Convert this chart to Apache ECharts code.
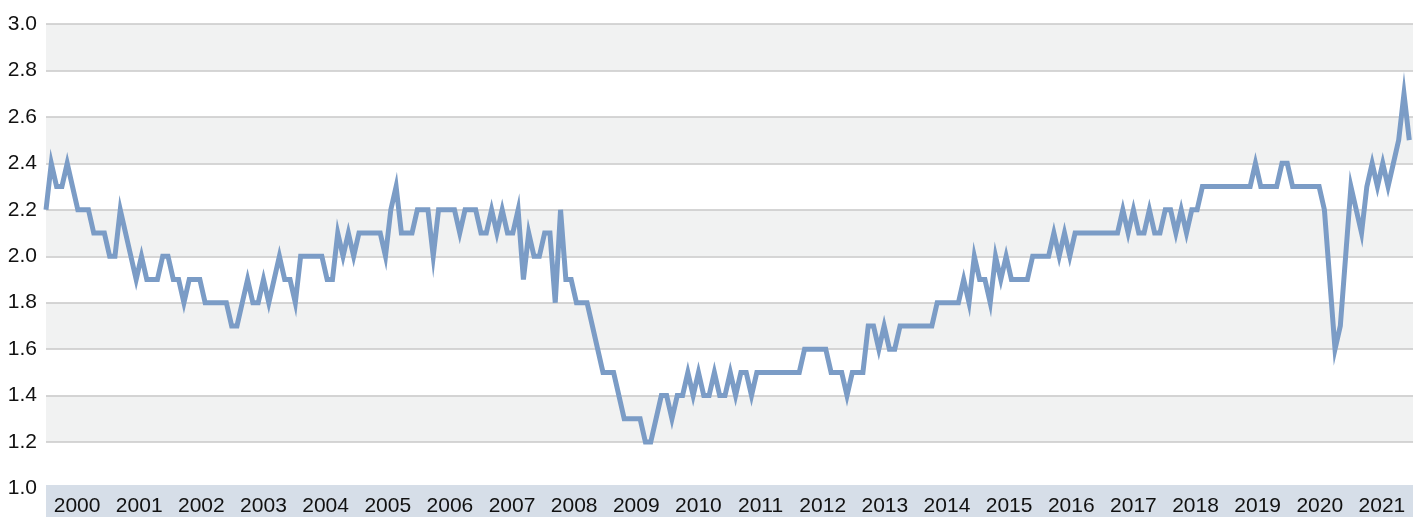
<!DOCTYPE html>
<html>
<head>
<meta charset="utf-8">
<script src="https://cdn.jsdelivr.net/npm/echarts@6/dist/echarts.min.js"></script>
<style>
  html, body { margin: 0; padding: 0; background: #ffffff; }
  #chart { width: 1419px; height: 517px; }
</style>
</head>
<body>
<div id="chart"></div>
<script>
// ---- data ----
const years = ['2000','2001','2002','2003','2004','2005','2006','2007','2008','2009','2010',
               '2011','2012','2013','2014','2015','2016','2017','2018','2019','2020','2021'];
const yTicks = [1.0, 1.2, 1.4, 1.6, 1.8, 2.0, 2.2, 2.4, 2.6, 2.8, 3.0];
// monthly values, Jan 2000 - Jun 2021
const values = [
  2.2, 2.4, 2.3, 2.3, 2.4, 2.3, 2.2, 2.2, 2.2, 2.1, 2.1, 2.1,   // 2000
  2.0, 2.0, 2.2, 2.1, 2.0, 1.9, 2.0, 1.9, 1.9, 1.9, 2.0, 2.0,   // 2001
  1.9, 1.9, 1.8, 1.9, 1.9, 1.9, 1.8, 1.8, 1.8, 1.8, 1.8, 1.7,   // 2002
  1.7, 1.8, 1.9, 1.8, 1.8, 1.9, 1.8, 1.9, 2.0, 1.9, 1.9, 1.8,   // 2003
  2.0, 2.0, 2.0, 2.0, 2.0, 1.9, 1.9, 2.1, 2.0, 2.1, 2.0, 2.1,   // 2004
  2.1, 2.1, 2.1, 2.1, 2.0, 2.2, 2.3, 2.1, 2.1, 2.1, 2.2, 2.2,   // 2005
  2.2, 2.0, 2.2, 2.2, 2.2, 2.2, 2.1, 2.2, 2.2, 2.2, 2.1, 2.1,   // 2006
  2.2, 2.1, 2.2, 2.1, 2.1, 2.2, 1.9, 2.1, 2.0, 2.0, 2.1, 2.1,   // 2007
  1.8, 2.2, 1.9, 1.9, 1.8, 1.8, 1.8, 1.7, 1.6, 1.5, 1.5, 1.5,   // 2008
  1.4, 1.3, 1.3, 1.3, 1.3, 1.2, 1.2, 1.3, 1.4, 1.4, 1.3, 1.4,   // 2009
  1.4, 1.5, 1.4, 1.5, 1.4, 1.4, 1.5, 1.4, 1.4, 1.5, 1.4, 1.5,   // 2010
  1.5, 1.4, 1.5, 1.5, 1.5, 1.5, 1.5, 1.5, 1.5, 1.5, 1.5, 1.6,   // 2011
  1.6, 1.6, 1.6, 1.6, 1.5, 1.5, 1.5, 1.4, 1.5, 1.5, 1.5, 1.7,   // 2012
  1.7, 1.6, 1.7, 1.6, 1.6, 1.7, 1.7, 1.7, 1.7, 1.7, 1.7, 1.7,   // 2013
  1.8, 1.8, 1.8, 1.8, 1.8, 1.9, 1.8, 2.0, 1.9, 1.9, 1.8, 2.0,   // 2014
  1.9, 2.0, 1.9, 1.9, 1.9, 1.9, 2.0, 2.0, 2.0, 2.0, 2.1, 2.0,   // 2015
  2.1, 2.0, 2.1, 2.1, 2.1, 2.1, 2.1, 2.1, 2.1, 2.1, 2.1, 2.2,   // 2016
  2.1, 2.2, 2.1, 2.1, 2.2, 2.1, 2.1, 2.2, 2.2, 2.1, 2.2, 2.1,   // 2017
  2.2, 2.2, 2.3, 2.3, 2.3, 2.3, 2.3, 2.3, 2.3, 2.3, 2.3, 2.3,   // 2018
  2.4, 2.3, 2.3, 2.3, 2.3, 2.4, 2.4, 2.3, 2.3, 2.3, 2.3, 2.3,   // 2019
  2.3, 2.2, 1.9, 1.6, 1.7, 2.0, 2.3, 2.2, 2.1, 2.3, 2.4, 2.3,   // 2020
  2.4, 2.3, 2.4, 2.5, 2.7, 2.5                                  // 2021
];

const chart = echarts.init(document.getElementById('chart'), null, { renderer: 'canvas' });
const FONT = "'Liberation Sans', Arial, sans-serif";

const gridLeft = 46, gridRight = 6, gridTop = 24, gridBottom = 28;

const lineColors = yTicks.map((t, i) => i === 0 ? 'rgba(0,0,0,0)' : '#c9c9c9');

chart.setOption({
  animation: false,
  backgroundColor: '#ffffff',
  grid: { left: gridLeft, right: gridRight, top: gridTop, bottom: gridBottom, containLabel: false },
  xAxis: [
    {
      type: 'value', min: 0, max: values.length - 0.3,
      show: false
    },
    {
      type: 'category', data: years, boundaryGap: true, position: 'bottom', z: 10,
      axisLine: { show: false }, axisTick: { show: false }, splitLine: { show: false },
      axisLabel: {
        interval: 0, margin: 18, verticalAlign: 'middle',
        fontFamily: FONT, fontSize: 21, color: '#111111'
      }
    }
  ],
  yAxis: {
    type: 'value', min: yTicks[0], max: yTicks[yTicks.length - 1], interval: 0.2,
    axisLine: { show: false }, axisTick: { show: false },
    axisLabel: {
      margin: 9, fontFamily: FONT, fontSize: 21, color: '#111111',
      formatter: v => v.toFixed(1)
    },
    splitLine: { show: true, lineStyle: { color: lineColors, width: 1.5 } },
    splitArea: { show: true, areaStyle: { color: ['rgba(0,0,0,0)', '#f1f2f2'] } }
  },
  graphic: [
    {
      type: 'rect', z: 1,
      shape: { x: gridLeft, y: 485, width: 1419 - gridLeft - gridRight, height: 40 },
      style: { fill: '#d6dee8' }
    }
  ],
  series: [
    {
      type: 'line', xAxisIndex: 0, yAxisIndex: 0,
      data: values.map((v, i) => [i, v]),
      showSymbol: false, symbol: 'none', z: 5,
      lineStyle: { color: '#7b9cc6', width: 5, join: 'miter', miterLimit: 10, cap: 'butt' }
    }
  ]
});
</script>
</body>
</html>
